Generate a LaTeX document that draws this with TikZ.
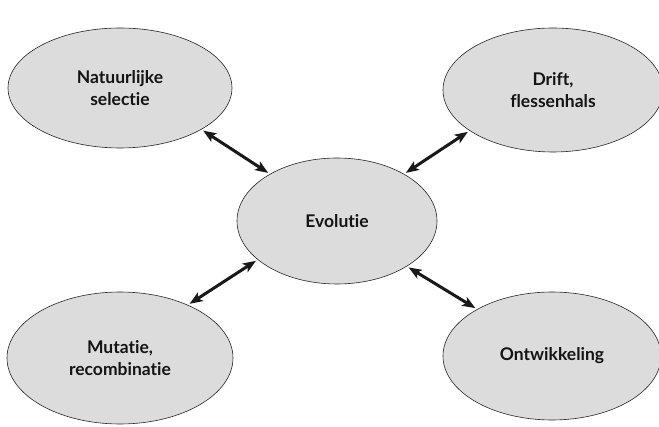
\documentclass[tikz,border=0pt]{standalone}
\usepackage{fontspec}
\setmainfont{Lato}[Ligatures=NoCommon]
\usetikzlibrary{shapes.geometric,arrows.meta}
\definecolor{ellfill}{RGB}{220,220,220}
\definecolor{txt}{RGB}{20,20,20}
\begin{document}
\begin{tikzpicture}[x=1pt,y=-1pt,
  bubble/.style={ellipse,draw=black!85,line width=0.6pt,fill=ellfill,inner sep=0pt,
     text=txt,align=center,font=\fontsize{17.5}{22}\selectfont\bfseries},
  link/.style={line width=3pt,black!90,
     {Stealth[length=13pt,width=10pt,inset=3pt]}-{Stealth[length=13pt,width=10pt,inset=3pt]},
     shorten <=2pt,shorten >=2pt}]
\useasboundingbox (0,0) rectangle (659,427);
\node[bubble,minimum width=224pt,minimum height=120pt] (nat) at (120,88) {Natuurlijke\\selectie};
\node[bubble,minimum width=220pt,minimum height=124pt] (drift) at (553,90) {Drift,\\flessenhals};
\node[bubble,minimum width=200pt,minimum height=126pt] (ev) at (337,221) {Evolutie};
\node[bubble,minimum width=226pt,minimum height=132pt] (mut) at (120,358) {Mutatie,\\recombinatie};
\node[bubble,minimum width=218pt,minimum height=128pt] (ont) at (552,356) {Ontwikkeling};
\draw[link] (ev.145) -- (nat.-27);
\draw[link] (ev.35) -- (drift.206);
\draw[link] (ev.206) -- (mut.38);
\draw[link] (ev.-33) -- (ont.148);
\end{tikzpicture}
\end{document}
